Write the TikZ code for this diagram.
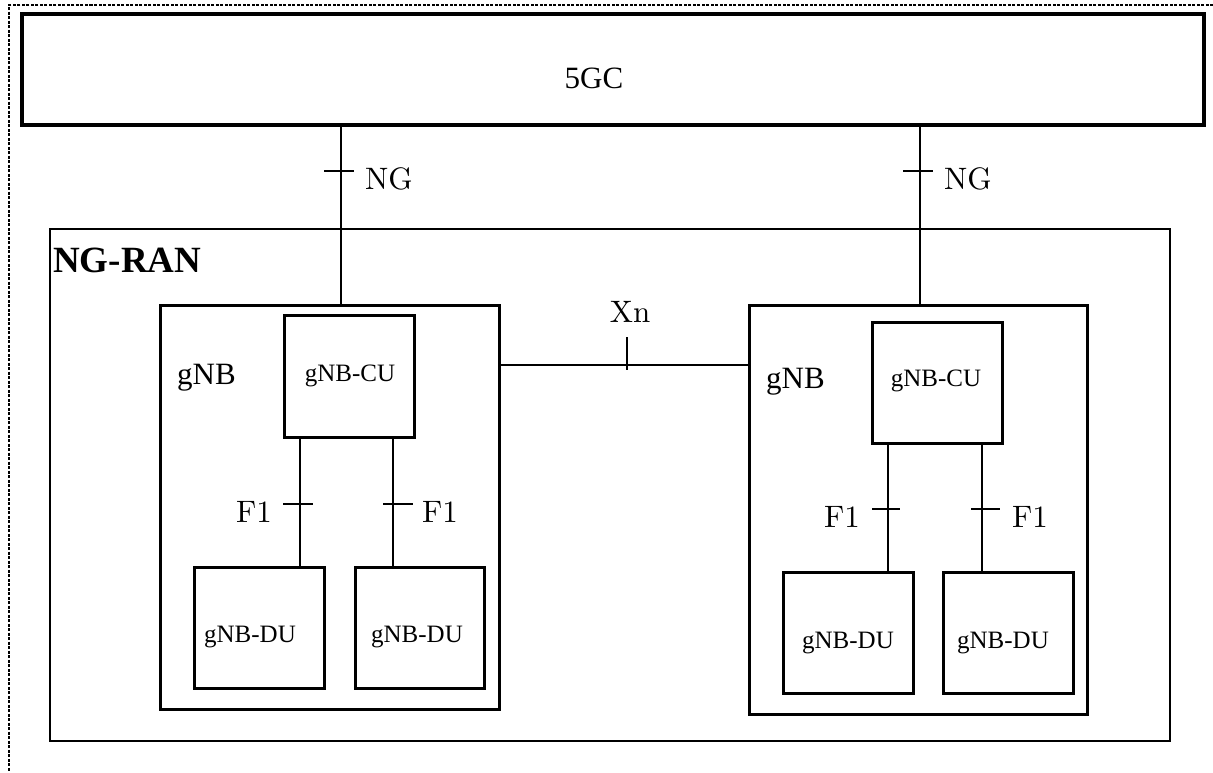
\documentclass[tikz,border=0pt]{standalone}
\usepackage{fontspec}
\newfontfamily\tnr{Liberation Serif}
\newfontfamily\lmten{lmroman10-regular}[Extension=.otf]
\begin{document}
\begin{tikzpicture}[x=1pt,y=-1pt,
  box/.style={draw, line width=3pt, inner sep=0pt, outer sep=0pt, anchor=north west},
  wire/.style={line width=1.8pt},
  tnrbig/.style={font=\tnr\fontsize{31}{37}\selectfont, inner sep=0pt},
  tnrsmall/.style={font=\tnr\fontsize{25}{30}\selectfont, inner sep=0pt, anchor=base},
  lmtext/.style={font=\lmten\fontsize{31}{37}\selectfont, inner sep=0pt}]
\useasboundingbox (0,0) rectangle (1213,772);
% page border (dotted)
\draw[line width=2pt, dash pattern=on 3pt off 1.5pt] (1213,5) -- (9,5) -- (9,772);
% boxes
\node[box, line width=3.5pt, minimum width=1182pt, minimum height=111pt] (core) at (22,14) {};
\node[box, line width=2pt, minimum width=1120pt, minimum height=512pt] (ran) at (50,229) {};
\node[box, minimum width=339pt, minimum height=404pt] (gnbL) at (160,305) {};
\node[box, minimum width=338pt, minimum height=409pt] (gnbR) at (749,305) {};
\node[box, minimum width=130pt, minimum height=122pt] (cuL) at (284,315) {};
\node[box, minimum width=130pt, minimum height=121pt] (cuR) at (872,322) {};
\node[box, minimum width=130pt, minimum height=121pt] (duL1) at (194,567) {};
\node[box, minimum width=129pt, minimum height=121pt] (duL2) at (355,567) {};
\node[box, minimum width=130pt, minimum height=121pt] (duR1) at (783,572) {};
\node[box, minimum width=130pt, minimum height=121pt] (duR2) at (943,572) {};
% texts
\node[tnrbig, anchor=base] (t5gc) at (594,88) {5GC};
\node[font=\tnr\bfseries\fontsize{37}{44}\selectfont, inner sep=0pt, anchor=base west] (tran) at (53,272) {NG-RAN};
\node[tnrbig, anchor=base west] (tgnbL) at (177,384) {gNB};
\node[tnrbig, anchor=base west] (tgnbR) at (766,388) {gNB};
\node[tnrsmall] (tcuL) at (350,381) {gNB-CU};
\node[tnrsmall] (tcuR) at (936,386) {gNB-CU};
\node[tnrsmall] (tduL1) at (250,642) {gNB-DU};
\node[tnrsmall] (tduL2) at (417,642) {gNB-DU};
\node[tnrsmall] (tduR1) at (848,648) {gNB-DU};
\node[tnrsmall] (tduR2) at (1003,648) {gNB-DU};
\node[lmtext, anchor=base west] (tngL) at (365,189) {NG};
\node[lmtext, anchor=base west] (tngR) at (944,189) {NG};
\node[lmtext, anchor=base] (txn) at (630,322) {Xn};
\node[lmtext, anchor=base east] (tf1a) at (272,522) {F1};
\node[lmtext, anchor=base west] (tf1b) at (422,522) {F1};
\node[lmtext, anchor=base east] (tf1c) at (860,527) {F1};
\node[lmtext, anchor=base west] (tf1d) at (1012,527) {F1};
% connector positions
\coordinate (ngL) at (341,171);
\coordinate (ngR) at (920,171);
\coordinate (xn) at (627,365);
\coordinate (f1a) at (300,504);
\coordinate (f1b) at (393,504);
\coordinate (f1c) at (888,509);
\coordinate (f1d) at (982,509);
% NG
\draw[wire] (ngL |- core.south) -- (ngL |- gnbL.north);
\draw[wire] (ngL) ++(-17,0) -- ++(30,0);
\draw[wire] (ngR |- core.south) -- (ngR |- gnbR.north);
\draw[wire] (ngR) ++(-17,0) -- ++(30,0);
% Xn
\draw[wire] (gnbL.east |- xn) -- (gnbR.west |- xn);
\draw[wire] (xn) ++(0,-28) -- ++(0,33);
% F1
\draw[wire] (f1a |- cuL.south) -- (f1a |- duL1.north);
\draw[wire] (f1a) ++(-17,0) -- ++(30,0);
\draw[wire] (f1b |- cuL.south) -- (f1b |- duL2.north);
\draw[wire] (f1b) ++(-10,0) -- ++(30,0);
\draw[wire] (f1c |- cuR.south) -- (f1c |- duR1.north);
\draw[wire] (f1c) ++(-16,0) -- ++(28,0);
\draw[wire] (f1d |- cuR.south) -- (f1d |- duR2.north);
\draw[wire] (f1d) ++(-11,0) -- ++(29,0);
\end{tikzpicture}
\end{document}
